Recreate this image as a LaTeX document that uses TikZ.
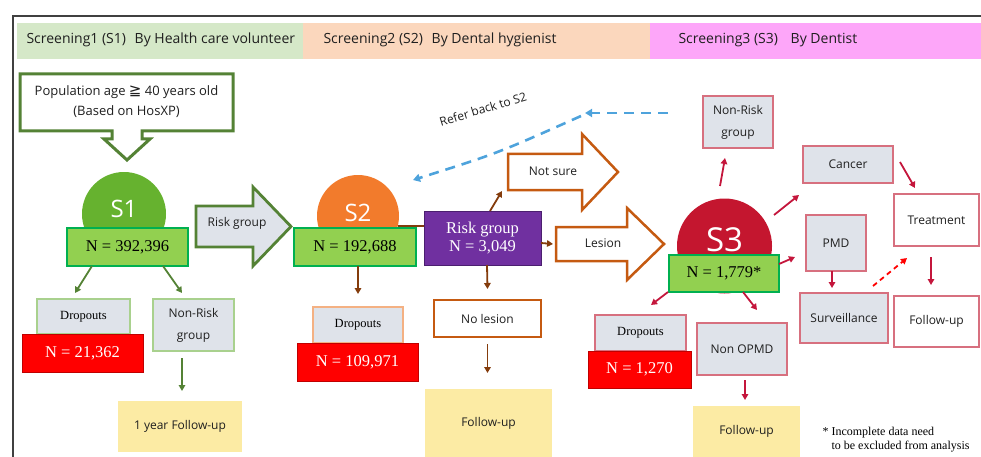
\documentclass[tikz,border=0pt]{standalone}
\usepackage{fontspec}
\setmainfont{Liberation Serif}
\newfontfamily\ptsans{Open Sans}
\newfontfamily\dejavu{DejaVu Sans}
\usetikzlibrary{arrows.meta,calc}
\definecolor{dkgreen}{HTML}{548235}
\definecolor{lgreenb}{HTML}{A9D18E}
\definecolor{nfill}{HTML}{92D050}
\definecolor{nborder}{HTML}{00B050}
\definecolor{redfill}{HTML}{FF0000}
\definecolor{redborder}{HTML}{C00000}
\definecolor{grayfill}{HTML}{DFE3EA}
\definecolor{brownc}{HTML}{843C0C}
\definecolor{orangec}{HTML}{C55A11}
\definecolor{lorange}{HTML}{F4B183}
\definecolor{purplec}{HTML}{7030A0}
\definecolor{purpleb}{HTML}{4B1F6F}
\definecolor{crimson}{HTML}{C4163C}
\definecolor{pinkb}{HTML}{D7707F}
\definecolor{yellowfill}{HTML}{FCEBA4}
\definecolor{bluec}{HTML}{4EA3DC}
\definecolor{sonec}{HTML}{66B22F}
\definecolor{stwoc}{HTML}{F27B2C}
\definecolor{sthreec}{HTML}{C4162F}
\definecolor{bandg}{HTML}{D5E8C8}
\definecolor{bando}{HTML}{FBD7BD}
\definecolor{bandp}{HTML}{FDA6F9}
\definecolor{framec}{HTML}{404040}
\begin{document}
\begin{tikzpicture}[x=1pt,y=-1pt,
  sans/.style={font=\ptsans\fontsize{12}{15}\selectfont, text=black!88},
  sanstwo/.style={font=\ptsans\fontsize{12}{22}\selectfont, text=black!88, align=center},
  hdr/.style={font=\ptsans\fontsize{14}{15}\selectfont, text=black!88, anchor=west},
  sz/.style 2 args={minimum width=#1, minimum height=#2},
  basebox/.style={inner sep=0pt, outer sep=0pt, align=center},
  graybox/.style={basebox, fill=grayfill, line width=1.2pt},
  nbox/.style={basebox, fill=nfill, draw=nborder, line width=1.2pt, font=\fontsize{16.5}{18}\selectfont},
  redbox/.style={basebox, fill=redfill, draw=redborder, line width=0.8pt, text=white, font=\fontsize{16.5}{18}\selectfont},
  dropfont/.style={font=\fontsize{12.5}{14}\selectfont},
  ybox/.style={basebox, fill=yellowfill},
  wbox/.style={basebox, fill=white, draw=pinkb, line width=1.5pt},
  circ/.style={circle, inner sep=0pt, outer sep=0pt, minimum size=#1},
  stext/.style={text=white, font=\ptsans\fontsize{#1}{#1}\selectfont},
  tip/.style={-{Triangle[length=6pt,width=6.5pt]}},
  garr/.style={tip, draw=dkgreen, fill=dkgreen, line width=1.8pt},
  barr/.style={tip, draw=brownc, fill=brownc, line width=1.8pt},
  carr/.style={tip, draw=crimson, fill=crimson, line width=1.8pt},
  blockg/.style={draw=dkgreen, line width=2.8pt, line join=miter},
  blocko/.style={draw=orangec, line width=2.5pt, line join=miter, fill=white},
]
\useasboundingbox (0,0) rectangle (981,457);
% header bands
\fill[bandg] (17,23) rectangle (303,59);
\fill[bando] (303,23) rectangle (650,59);
\fill[bandp] (650,23) rectangle (981,59);
\draw[framec, line width=2pt] (12.7,457) -- (12.7,16.5) -- (981,16.5);
\node[hdr] (h1) at (23,40) {Screening1 (S1)\hspace{5pt} By Health care volunteer};
\node[hdr] (h2) at (320,40) {Screening2 (S2)\hspace{5pt} By Dental hygienist};
\node[hdr] (h3) at (675,40) {Screening3 (S3)\hspace{9pt} By Dentist};

% ---------------- S1 ----------------
\draw[draw=dkgreen, line width=3pt, fill=white, line join=miter]
  (20,74) -- (233,74) -- (233,131) -- (142,131) -- (142,139) -- (150,139) -- (127,160)
  -- (104,139) -- (112,139) -- (112,131) -- (20,131) -- cycle;
\node[align=center, font=\ptsans\fontsize{13}{20}\selectfont, text=black!88] (pop) at (126.5,102)
  {Population age {\dejavu\fontsize{15}{15}\selectfont ≧} 40 years old\\(Based on HosXP)};

\node[circ=84pt, fill=sonec] (s1) at (124,214) {};
\node[stext=24] (s1t) at (124,209) {S1};
\node[nbox, sz={121pt}{38pt}] (n1) at (127.5,247) {N = 392,396};

\draw[blockg, fill=grayfill] (196,206) -- (253,206) -- (253,187) -- (291,226.5) -- (253,266) -- (253,247) -- (196,247) -- cycle;
\node[sans] (rg1) at (237,223) {Risk group};

\node[graybox, draw=lgreenb, sz={93pt}{35pt}, dropfont] (drop1) at (83.5,316.5) {Dropouts};
\node[redbox, sz={121pt}{38pt}] (red1) at (82.5,353) {N = 21,362};
\node[graybox, draw=lgreenb, sz={81pt}{52pt}, sanstwo] (nr1) at (193.5,325) {Non-Risk\\group};
\node[ybox, sz={124pt}{51pt}, sans] (fu1) at (180,426.5) {1 year Follow-up};

\draw[garr] ($(n1.south)+(-35.5,0)$) -- ($(drop1.north)+(-8.5,-6)$);
\draw[garr] ($(n1.south)+(35.5,0)$) -- ($(nr1.north)+(-11.5,-6)$);
\draw[garr] ($(nr1.south)+(-11.5,7)$) -- ($(fu1.north)+(2,-10)$);

% ---------------- S2 ----------------
\node[circ=82pt, fill=stwoc] (s2) at (358,216) {};
\node[stext=24] (s2t) at (358,213) {S2};
\node[nbox, sz={122pt}{38pt}] (n2) at (355,247) {N = 192,688};
\node[basebox, fill=purplec, draw=purpleb, line width=0.8pt, text=white, sz={117pt}{54pt},
  font=\fontsize{16.5}{18}\selectfont] (pg) at (482.5,238) {Risk group\\N = 3,049};
\draw[brownc, line width=1.8pt] (s2.-14) -- (pg.west |- s2.-14);

\draw[blocko] (508,154) -- (582,154) -- (582,134) -- (618,172) -- (582,210) -- (582,190) -- (508,190) -- cycle;
\node[sans] (ns) at (553,171) {Not sure};
\draw[blocko] (556,227) -- (627,227) -- (627,208) -- (664,244) -- (627,280) -- (627,261) -- (556,261) -- cycle;
\node[sans] (les) at (603,243) {Lesion};

\draw[barr] ($(pg.north)+(7.5,0)$) -- ($(ns)+(-51,20)$);
\draw[barr] ($(pg.east)+(0,5)$) -- ($(les)+(-50,1)$);

\node[graybox, draw=lorange, sz={90pt}{36pt}, dropfont] (drop2) at (358,325) {Dropouts};
\node[redbox, sz={121pt}{38pt}] (red2) at (357.5,362) {N = 109,971};
\draw[barr] ($(n2.south)+(3,0)$) -- ($(drop2.north)+(0,-13)$);

\node[basebox, fill=white, draw=orangec, line width=2.5pt, sz={107pt}{37pt}, sans] (nl) at (487.5,318.5) {No lesion};
\node[ybox, sz={127pt}{68pt}, sans] (fu2) at (488.5,423) {Follow-up};
\draw[barr] ($(pg.south)+(4.5,0)$) -- ($(nl.north)+(0,-11)$);
\draw[barr] ($(nl.south)+(0,7)$) -- ($(fu2.north)+(-1,-16)$);

% refer back
\coordinate (refer) at (585,113);
\node[graybox, draw=pinkb, sz={70pt}{52pt}, sanstwo] (nr3) at (738,122) {Non-Risk\\group};
\draw[bluec, line width=2.6pt, dash pattern=on 10pt off 7pt, -{Triangle[length=7pt,width=8pt]}]
  ($(nr3.west)+(-35,-9)$) -- (refer);
\draw[bluec, line width=2.6pt, dash pattern=on 10pt off 7pt, -{Triangle[length=7pt,width=8pt]}]
  ($(refer)+(-4,3)$) .. controls (497,153.5) .. ($(s2)+(55,-36)$);
\node[sans, rotate=17, inner sep=1pt] (refer-lbl) at (483,109) {Refer back to S2};

% ---------------- S3 ----------------
\node[circ=95pt, fill=sthreec] (s3) at (724.5,246) {};
\node[stext=33] (s3t) at (724.5,240) {S3};
\node[nbox, sz={110pt}{37pt}] (n3) at (724,273.5) {N = 1,779*};

\node[graybox, draw=pinkb, sz={90pt}{37pt}, sans] (can) at (848,164.5) {Cancer};
\node[wbox, sz={85pt}{52pt}, sans] (tr) at (936.5,220) {Treatment};
\node[graybox, draw=pinkb, sz={60pt}{56pt}, sans] (pmd) at (836,243) {PMD};
\node[graybox, draw=pinkb, sz={88pt}{50pt}, sans] (sur) at (844,318) {Surveillance};
\node[wbox, sz={85pt}{51pt}, sans] (fu3r) at (936.5,321.5) {Follow-up};

\node[graybox, draw=pinkb, sz={91pt}{36pt}, dropfont] (drop3) at (640.5,333) {Dropouts};
\node[redbox, sz={103pt}{37pt}] (red3) at (639.5,369.5) {N = 1,270};
\node[graybox, draw=pinkb, sz={90pt}{52pt}, sans] (nop) at (742,349) {Non OPMD};
\node[ybox, sz={107pt}{51pt}, sans] (fu3) at (746.5,431.5) {Follow-up};

\draw[carr] ($(s3.north)+(-4.5,-12.5)$) -- ($(nr3.south)+(-13,10)$);
\draw[carr] ($(s3.center)+(49.5,-31)$) -- ($(can.south west)+(-4,12)$);
\draw[carr] ($(can.east)+(7,-2.5)$) -- ($(tr.north west)+(21,-6)$);
\draw[carr] ($(s3.center)+(54.5,18)$) -- ($(pmd.west)+(-11,14)$);
\draw[carr] ($(pmd.south)+(-4,0)$) -- ($(sur.north)+(-12,-5)$);
\draw[carr] ($(tr.south)+(-5.5,11)$) -- ($(fu3r.north)+(-5.5,-11)$);
\draw[redfill, line width=1.8pt, dash pattern=on 5pt off 4pt, -{Triangle[length=6pt,width=6.5pt]}]
  ($(sur.north east)+(-15,-7)$) -- ($(tr.south west)+(13,12)$);
\draw[carr] ($(n3.south west)+(-1,0)$) -- ($(drop3.north)+(10.5,-10)$);
\draw[carr] ($(n3.south)+(19,0)$) -- ($(nop.north)+(15,-13)$);
\draw[carr] ($(nop.south)+(3,5)$) -- ($(fu3.north)+(-1.5,-6)$);

\node[anchor=north west, align=left, font=\fontsize{12}{14}\selectfont] (note) at (819,424)
  {* Incomplete data need\\\phantom{* }to be excluded from analysis};
\end{tikzpicture}
\end{document}
